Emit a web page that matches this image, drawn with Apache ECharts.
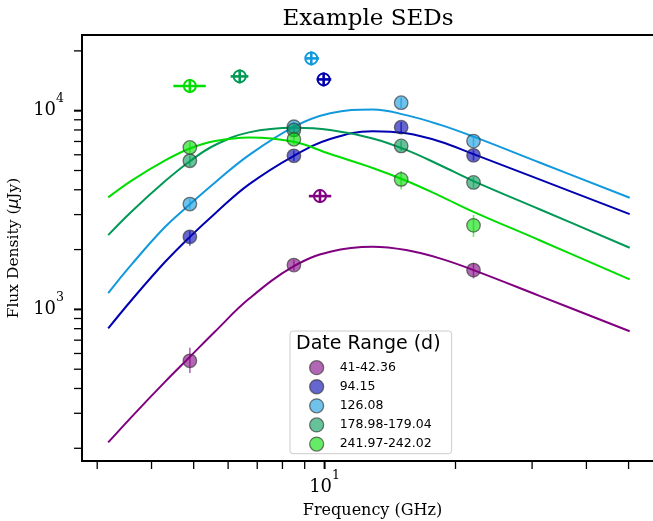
<!DOCTYPE html>
<html>
<head>
<meta charset="utf-8">
<script src="https://cdn.jsdelivr.net/npm/echarts@6.0.0/dist/echarts.min.js"></script>
<style>
  html, body { margin: 0; padding: 0; background: #fff; }
  #main { width: 653px; height: 521px; }
</style>
</head>
<body>
<div id="main"></div>
<script>
var myChart = echarts.init(document.getElementById('main'))

// 坐标轴范围 (GHz, μJy)
var X_MIN = 2.768, X_MAX = 60
var Y_MIN = 172.6, Y_MAX = 24040

// 刻度位置
var xTicks = [3, 4, 5, 6, 7, 8, 9, 10, 20, 30, 40, 50]
var yTicks = [200, 300, 400, 500, 600, 700, 800, 900, 1000,
  2000, 3000, 4000, 5000, 6000, 7000, 8000, 9000, 10000, 20000]
var majorTicks = [10, 1000, 10000]

// 图例名称
var names = ['41-42.36', '94.15', '126.08', '178.98-179.04', '241.97-242.02']

// 拟合曲线
var curveFreq = [3.18, 3.6, 4.3, 4.9, 5.6, 6.7, 8.5, 10.3, 12.9, 15.4, 18.4, 22, 31.3, 50.3]
var curve41 = [214, 288, 433, 577, 774, 1130, 1650, 1950, 2066, 1988, 1806, 1577, 1167, 776]
var curve94 = [802, 1115, 1736, 2318, 3041, 4256, 5930, 7200, 7890, 7690, 7000, 6047, 4498, 3017]
var curve126 = [1208, 1685, 2604, 3378, 4354, 5977, 8300, 9700, 10150, 9500, 8505, 7400, 5470, 3645]
var curve179 = [2366, 3110, 4423, 5570, 6720, 7780, 8205, 8000, 7250, 6350, 5330, 4423, 3183, 2042]
var curve242 = [3662, 4450, 5620, 6450, 7030, 7340, 6975, 6050, 5150, 4440, 3730, 3098, 2223, 1416]

// 测量点
var ptFreq41 = [4.9, 8.5, 22]
var ptFlux41 = [551, 1671, 1577]
var ptLo41 = [478, 1570, 1432]
var ptHi41 = [641, 1780, 1717]

var ptFreq94 = [4.9, 8.5, 15, 22]
var ptFlux94 = [2318, 5930, 8260, 5960]
var ptLo94 = [2090, 5580, 7780, 5610]
var ptHi94 = [2480, 6300, 8770, 6330]

var ptFreq126 = [4.9, 8.5, 15, 22]
var ptFlux126 = [3390, 8300, 10970, 7030]
var ptLo126 = [3190, 7810, 10330, 6620]
var ptHi126 = [3600, 8810, 11650, 7460]

var ptFreq179 = [4.9, 8.5, 15, 22]
var ptFlux179 = [5600, 8000, 6650, 4356]
var ptLo179 = [5270, 7530, 6260, 4100]
var ptHi179 = [5950, 8500, 7060, 4630]

var ptFreq242 = [4.9, 8.5, 15, 22]
var ptFlux242 = [6530, 7180, 4510, 2648]
var ptLo242 = [6150, 6760, 4016, 2318]
var ptHi242 = [6940, 7630, 4969, 2985]

// 空心十字点 (每组一个)
var limFreq = [9.76, 9.95, 9.32, 6.38, 4.90]
var limFlux = [3717, 14370, 18330, 14880, 13310]
var limFreqLo = [9.2, 9.59, 9.02, 6.08, 4.49]
var limFreqHi = [10.36, 10.36, 9.71, 6.68, 5.33]
var limFluxLo = [3430, 13260, 16910, 13730, 12280]
var limFluxHi = [4030, 15580, 19870, 16130, 14430]

// 颜色
var lineColors = ['#800080', '#0000b0', '#1199dd', '#009955', '#00dd00']
var fillColors = ['rgba(128,0,128,0.6)', 'rgba(0,0,176,0.6)', 'rgba(17,153,221,0.6)',
  'rgba(0,153,85,0.6)', 'rgba(0,221,0,0.6)']

var curves = [curve41, curve94, curve126, curve179, curve242]
var ptFreqs = [ptFreq41, ptFreq94, ptFreq126, ptFreq179, ptFreq242]
var ptFluxes = [ptFlux41, ptFlux94, ptFlux126, ptFlux179, ptFlux242]
var ptLos = [ptLo41, ptLo94, ptLo126, ptLo179, ptLo242]
var ptHis = [ptHi41, ptHi94, ptHi126, ptHi179, ptHi242]

var serif = 'DejaVu Serif'
var sans = 'DejaVu Sans'

// 10^n 标签
function powFmt(v) {
  var e = Math.log10(v)
  var r = Math.round(e)
  if (Math.abs(e - r) > 1e-6) return ''
  return '{b|10}{s|' + r + '}'
}
var powRich = {
  b: { fontFamily: serif, fontSize: 18, color: '#000', lineHeight: 36 },
  s: { fontFamily: serif, fontSize: 12.5, color: '#000', verticalAlign: 'top', lineHeight: 14 }
}

function makeErr(color) {
  return function (params, api) {
    var p1 = api.coord([api.value(0), api.value(1)])
    var p2 = api.coord([api.value(0), api.value(2)])
    return {
      type: 'line',
      shape: { x1: p1[0], y1: p1[1], x2: p2[0], y2: p2[1] },
      style: { stroke: color, lineWidth: 1.6, opacity: 0.6 }
    }
  }
}

function makeLim(color) {
  return function (params, api) {
    var c = api.coord([api.value(0), api.value(1)])
    var xl = api.coord([api.value(2), api.value(1)])
    var xh = api.coord([api.value(3), api.value(1)])
    var yl = api.coord([api.value(0), api.value(4)])
    var yh = api.coord([api.value(0), api.value(5)])
    return {
      type: 'group',
      children: [
        { type: 'line', shape: { x1: xl[0], y1: c[1], x2: xh[0], y2: c[1] }, style: { stroke: color, lineWidth: 2.6 } },
        { type: 'line', shape: { x1: c[0], y1: yl[1], x2: c[0], y2: yh[1] }, style: { stroke: color, lineWidth: 2.6 } },
        { type: 'circle', shape: { cx: c[0], cy: c[1], r: 6 }, style: { fill: 'none', stroke: color, lineWidth: 2 } }
      ]
    }
  }
}

var series = []
var legendData = []
for (var i = 0; i < names.length; i++) {
  var cData = []
  for (var j = 0; j < curveFreq.length; j++) cData.push([curveFreq[j], curves[i][j]])
  var pData = [], eData = []
  for (var k = 0; k < ptFreqs[i].length; k++) {
    pData.push([ptFreqs[i][k], ptFluxes[i][k]])
    eData.push([ptFreqs[i][k], ptLos[i][k], ptHis[i][k]])
  }
  series.push({
    type: 'line', name: 'fit ' + names[i], data: cData,
    smooth: 0.4, showSymbol: false, silent: true,
    lineStyle: { color: lineColors[i], width: 2 }, z: 2
  })
  series.push({
    type: 'custom', name: 'err ' + names[i], data: eData,
    encode: { x: 0, y: [1, 2] }, renderItem: makeErr(lineColors[i]), silent: true, z: 3
  })
  series.push({
    type: 'scatter', name: names[i], data: pData, symbolSize: 13.5,
    itemStyle: { color: fillColors[i], borderColor: 'rgba(50,50,50,0.65)', borderWidth: 1.3, opacity: 1 },
    z: 4
  })
  series.push({
    type: 'custom', name: 'lim ' + names[i],
    data: [[limFreq[i], limFlux[i], limFreqLo[i], limFreqHi[i], limFluxLo[i], limFluxHi[i]]],
    encode: { x: [0, 2, 3], y: [1, 4, 5] }, renderItem: makeLim(lineColors[i]), silent: true, z: 4
  })
  legendData.push({
    name: names[i], icon: 'circle',
    itemStyle: { color: fillColors[i], borderColor: 'rgba(50,50,50,0.65)', borderWidth: 1.3 }
  })
}

// 刻度线
var xTickData = xTicks.map(function (v) { return [v, Y_MIN, majorTicks.indexOf(v) >= 0 ? 1 : 0] })
var yTickData = yTicks.map(function (v) { return [X_MIN, v, majorTicks.indexOf(v) >= 0 ? 1 : 0] })
series.push({
  type: 'custom', name: 'xticks', data: xTickData, encode: { x: 0, y: 1 }, silent: true, z: 5,
  renderItem: function (params, api) {
    var p = api.coord([api.value(0), Y_MIN])
    return { type: 'line', shape: { x1: p[0], y1: p[1], x2: p[0], y2: p[1] + 8 },
      style: { stroke: '#000', lineWidth: api.value(2) ? 2 : 1.3 } }
  }
})
series.push({
  type: 'custom', name: 'yticks', data: yTickData, encode: { x: 0, y: 1 }, silent: true, z: 5,
  renderItem: function (params, api) {
    var p = api.coord([X_MIN, api.value(1)])
    return { type: 'line', shape: { x1: p[0] - 8, y1: p[1], x2: p[0], y2: p[1] },
      style: { stroke: '#000', lineWidth: api.value(2) ? 2 : 1.3 } }
  }
})

var option = {
  animation: false,
  grid: {
    left: 82, top: 35, right: -10, bottom: 60,
    outerBoundsMode: 'none', containLabel: false,
    show: true, borderColor: '#000', borderWidth: 2, backgroundColor: 'transparent'
  },
  graphic: [
    { type: 'text', x: 368, y: 8, z: 100,
      style: { text: 'Example SEDs', font: '23px "DejaVu Serif"', fill: '#000', textAlign: 'center' } },
    { type: 'text', x: 296, y: 335, z: 100,
      style: { text: 'Date Range (d)', font: '19px "DejaVu Sans"', fill: '#000', textAlign: 'left' } }
  ],
  legend: {
    orient: 'vertical',
    left: 290, top: 331,
    padding: [29, 20, 2, 19],
    itemWidth: 36, itemHeight: 14, itemGap: 3.8,
    backgroundColor: 'rgba(255,255,255,0.85)',
    borderColor: '#cccccc', borderWidth: 1, borderRadius: 3,
    selectedMode: false,
    textStyle: { fontFamily: sans, fontSize: 12.5, color: '#000', lineHeight: 14 },
    data: legendData
  },
  xAxis: {
    type: 'log', min: X_MIN, max: X_MAX,
    name: 'Frequency (GHz)', nameLocation: 'middle', nameGap: 42,
    nameTextStyle: { fontFamily: serif, fontSize: 16, color: '#000' },
    axisLine: { show: false }, axisTick: { show: false }, splitLine: { show: false },
    axisLabel: { formatter: powFmt, margin: 8, rich: powRich, showMinLabel: false, showMaxLabel: false }
  },
  yAxis: {
    type: 'log', min: Y_MIN, max: Y_MAX,
    name: 'Flux Density ({i|μ}Jy)', nameLocation: 'middle', nameGap: 56,
    nameTextStyle: { fontFamily: serif, fontSize: 15.5, color: '#000',
      rich: { i: { fontFamily: sans, fontStyle: 'italic', fontSize: 15.5, color: '#000' } } },
    axisLine: { show: false }, axisTick: { show: false }, splitLine: { show: false },
    axisLabel: { formatter: powFmt, margin: 18, rich: powRich, showMinLabel: false, showMaxLabel: false }
  },
  series: series
}

myChart.setOption(option)
</script>
</body>
</html>
